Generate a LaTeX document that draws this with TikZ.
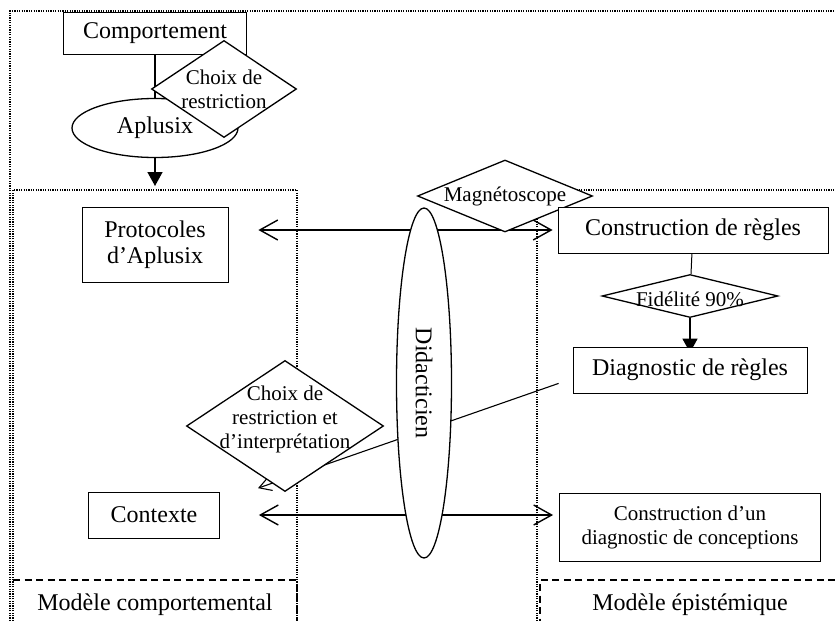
\documentclass[tikz,border=0pt]{standalone}
\usepackage{fontspec}
\setmainfont{Liberation Serif}
\usetikzlibrary{shapes.geometric,arrows.meta,backgrounds}
\newcommand{\txtbig}{\fontsize{24}{26}\selectfont}
\newcommand{\txtsmall}{\fontsize{21}{24}\selectfont}
\begin{document}
\begin{tikzpicture}[x=1pt,y=-1pt,
    box/.style={draw,line width=0.8pt,fill=white,inner sep=0pt,align=center,font=\txtbig},
    choice/.style={diamond,draw,line width=1.3pt,fill=white,inner sep=0pt},
    bubble/.style={ellipse,draw,line width=1.3pt,fill=white,inner sep=0pt,font=\txtbig},
    lbl/.style={align=center,font=\txtsmall},
    zone/.style={line width=1.2pt,dash pattern=on 1.2pt off 1.2pt},
    modelline/.style={line width=1.6pt,dash pattern=on 7pt off 4.5pt},
    twoway/.style={line width=1.4pt,{Straight Barb[length=18pt,width=20pt]}-{Straight Barb[length=18pt,width=20pt]}},
    flow/.style={line width=1.5pt,-{Triangle[length=14pt,width=15pt]}}]
  \useasboundingbox (0,0) rectangle (835,621);
  \node[box,minimum width=183pt,minimum height=42pt] (comp) at (155,33) {Comportement};
  \node[bubble,minimum width=166pt,minimum height=59pt] (aplusix) at (155,128) {Aplusix};
  \node[choice,minimum width=145pt,minimum height=97pt,
    label={[lbl]center:Choix de\\restriction}] (choix1) at (224,89) {};
  \coordinate (entry) at (155,186);
  \node[box,minimum width=146pt,minimum height=75pt] (proto) at (155,245) {Protocoles\\d'Aplusix};
  \node[box,minimum width=131pt,minimum height=46pt] (contexte) at (154,515) {Contexte};
  \node[choice,minimum width=197pt,minimum height=131pt,
    label={[lbl,yshift=7pt]center:Choix de\\restriction et\\d'interprétation}] (choix2) at (285,426) {};
  \node[bubble,rotate=-90,minimum width=350pt,minimum height=55pt] (didac) at (424,383) {Didacticien};
  \node[choice,minimum width=175pt,minimum height=72pt,
    label={[lbl]center:Magnétoscope}] (magneto) at (505,196) {};
  \node[box,minimum width=270pt,minimum height=46pt] (regles) at (693,230) {Construction de règles};
  \node[choice,minimum width=176pt,minimum height=43pt,
    label={[lbl,yshift=-3pt]center:Fidélité 90\%}] (fid) at (690,296) {};
  \node[box,minimum width=234pt,minimum height=46pt] (diag) at (690,370) {Diagnostic de règles};
  \node[box,minimum width=261pt,minimum height=68pt,font=\txtsmall] (concept) at (690,527)
    {Construction d'un\\diagnostic de conceptions};
  \node[font=\txtbig] (mcomp) at (155,605) {Modèle comportemental};
  \node[font=\txtbig] (mepis) at (690,605) {Modèle épistémique};
  \begin{scope}[on background layer]
    \draw[zone] (10,621) -- (10,11) -- (835,11);
    \draw[zone] (13,621) -- (13,190) -- (297,190) -- (297,621);
    \draw[zone] (537,621) -- (537,190) -- (835,190);
    \draw[modelline] (13,580) -- (297,580) -- (297,621);
    \draw[modelline] (835,580) -- (540,580) -- (540,621);
    \draw[line width=1.5pt] (comp) -- (aplusix);
    \draw[flow] (aplusix) -- (entry);
    \draw[line width=1pt] (regles) -- (fid);
    \draw[flow] (fid) -- ([yshift=-6pt]diag.north);
    \draw[twoway,shorten <=30pt,shorten >=5pt] (proto.east |- regles.west) -- (regles.west);
    \draw[twoway,shorten <=39pt,shorten >=6pt] (contexte.east) -- (contexte.east -| concept.west);
    \draw[line width=1.1pt,-{Straight Barb[length=12pt,width=14pt]}]
      ([xshift=-14pt,yshift=10pt]diag.south west) -- ([xshift=-27pt,yshift=4pt]choix2.south);
  \end{scope}
\end{tikzpicture}
\end{document}
